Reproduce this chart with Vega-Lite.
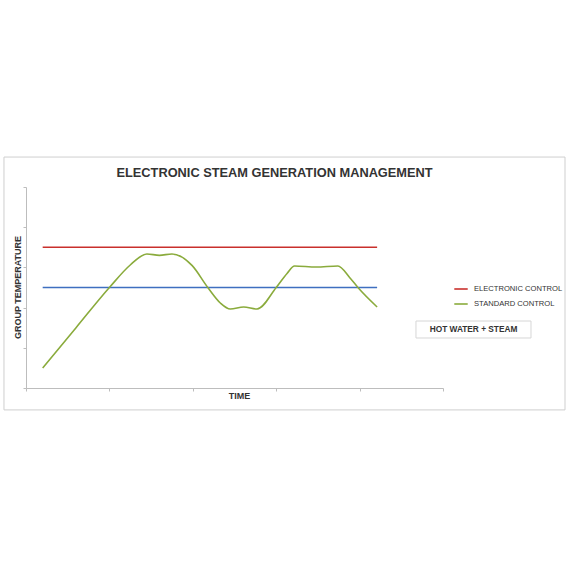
{
  "$schema": "https://vega.github.io/schema/vega-lite/v6.json",
  "autosize": "none",
  "width": 417,
  "height": 201,
  "padding": {"left": 26, "top": 187, "right": 127, "bottom": 182},
  "background": "white",
  "config": {"view": {"stroke": null}, "font": "Liberation Sans"},
  "title": {
    "text": "ELECTRONIC STEAM GENERATION MANAGEMENT",
    "fontSize": 12.8,
    "fontWeight": "bold",
    "color": "#333333",
    "anchor": "start",
    "frame": "bounds",
    "dx": 113,
    "dy": 23,
    "offset": 0
  },
  "datasets": {
    "series": [
      {"series": "ELECTRONIC CONTROL", "t": 0.2, "temp": 7},
      {"series": "ELECTRONIC CONTROL", "t": 4.21, "temp": 7},
      {"series": "HOT WATER + STEAM", "t": 0.2, "temp": 5},
      {"series": "HOT WATER + STEAM", "t": 4.21, "temp": 5},
      {"series": "STANDARD CONTROL", "t": 0.2, "temp": 1.0},
      {"series": "STANDARD CONTROL", "t": 0.6, "temp": 3.0},
      {"series": "STANDARD CONTROL", "t": 1.0, "temp": 5.0},
      {"series": "STANDARD CONTROL", "t": 1.25, "temp": 6.12},
      {"series": "STANDARD CONTROL", "t": 1.45, "temp": 6.67},
      {"series": "STANDARD CONTROL", "t": 1.6, "temp": 6.6},
      {"series": "STANDARD CONTROL", "t": 1.75, "temp": 6.67},
      {"series": "STANDARD CONTROL", "t": 1.99, "temp": 6.1},
      {"series": "STANDARD CONTROL", "t": 2.18, "temp": 5.0},
      {"series": "STANDARD CONTROL", "t": 2.33, "temp": 4.23},
      {"series": "STANDARD CONTROL", "t": 2.45, "temp": 3.93},
      {"series": "STANDARD CONTROL", "t": 2.61, "temp": 4.03},
      {"series": "STANDARD CONTROL", "t": 2.77, "temp": 3.93},
      {"series": "STANDARD CONTROL", "t": 3.0, "temp": 5.0},
      {"series": "STANDARD CONTROL", "t": 3.13, "temp": 5.7},
      {"series": "STANDARD CONTROL", "t": 3.22, "temp": 6.07},
      {"series": "STANDARD CONTROL", "t": 3.48, "temp": 6.02},
      {"series": "STANDARD CONTROL", "t": 3.74, "temp": 6.07},
      {"series": "STANDARD CONTROL", "t": 3.88, "temp": 5.5},
      {"series": "STANDARD CONTROL", "t": 3.98, "temp": 5.0},
      {"series": "STANDARD CONTROL", "t": 4.21, "temp": 4.03}
    ],
    "frame": [{"label": "frame"}],
    "note": [{"label": "HOT WATER + STEAM"}]
  },
  "layer": [
    {
      "data": {"name": "frame"},
      "mark": {"type": "rect", "fill": null, "stroke": "#cfcfcf", "strokeWidth": 1, "clip": false},
      "encoding": {
        "x": {"datum": -0.264, "type": "quantitative", "scale": {"domain": [0, 5]}},
        "x2": {"datum": 6.463},
        "y": {"datum": 11.49, "type": "quantitative", "scale": {"domain": [0, 10]}},
        "y2": {"datum": -1.09}
      }
    },
    {
      "data": {"name": "note"},
      "mark": {"type": "rect", "fill": "white", "stroke": "#d6d6d6", "strokeWidth": 1, "clip": false},
      "encoding": {
        "x": {"datum": 4.676, "type": "quantitative"},
        "x2": {"datum": 6.055},
        "y": {"datum": 3.333, "type": "quantitative"},
        "y2": {"datum": 2.488}
      }
    },
    {
      "data": {"name": "note"},
      "mark": {"type": "text", "fontSize": 8.3, "fontWeight": "bold", "color": "#333333", "align": "center", "baseline": "middle", "clip": false},
      "encoding": {
        "x": {"datum": 5.366, "type": "quantitative"},
        "y": {"datum": 2.91, "type": "quantitative"},
        "text": {"field": "label"}
      }
    },
    {
      "data": {"name": "series"},
      "mark": {"type": "line", "interpolate": "monotone", "strokeWidth": 1.6},
      "encoding": {
        "x": {
          "field": "t",
          "type": "quantitative",
          "scale": {"domain": [0, 5], "nice": false, "zero": false},
          "axis": {
            "values": [0, 1, 2, 3, 4, 5],
            "labels": false,
            "labelOverlap": false,
            "grid": false,
            "domainColor": "#bdbdbd",
            "tickColor": "#bdbdbd",
            "tickSize": 3,
            "title": "TIME",
            "titleFontSize": 9,
            "titleFontWeight": "bold",
            "titleColor": "#333333",
            "titleX": 213,
            "titleY": 7,
            "titleBaseline": "middle",
            "titleAlign": "center"
          }
        },
        "y": {
          "field": "temp",
          "type": "quantitative",
          "scale": {"domain": [0, 10], "nice": false},
          "axis": {
            "values": [0, 1, 2, 3, 4, 5, 6, 7, 8, 9, 10],
            "labels": false,
            "labelOverlap": false,
            "grid": false,
            "domainColor": "#bdbdbd",
            "tickColor": "#bdbdbd",
            "tickSize": 3,
            "title": "GROUP TEMPERATURE",
            "titleFontSize": 9,
            "titleFontWeight": "bold",
            "titleColor": "#333333",
            "titleX": -9,
            "titleY": 100,
            "titleAngle": 270,
            "titleBaseline": "middle",
            "titleAlign": "center"
          }
        },
        "color": {
          "field": "series",
          "type": "nominal",
          "scale": {
            "domain": ["ELECTRONIC CONTROL", "STANDARD CONTROL", "HOT WATER + STEAM"],
            "range": ["#c9302c", "#8aab3c", "#3f6fc0"]
          },
          "legend": {
            "values": ["ELECTRONIC CONTROL", "STANDARD CONTROL"],
            "title": null,
            "orient": "none",
            "legendX": 427,
            "legendY": 94,
            "symbolType": "stroke",
            "symbolSize": 180,
            "symbolStrokeWidth": 1.6,
            "labelFontSize": 7.6,
            "labelColor": "#333333",
            "labelOffset": 5,
            "rowPadding": 3,
            "padding": 0
          }
        },
        "detail": {"field": "series"}
      }
    }
  ]
}
